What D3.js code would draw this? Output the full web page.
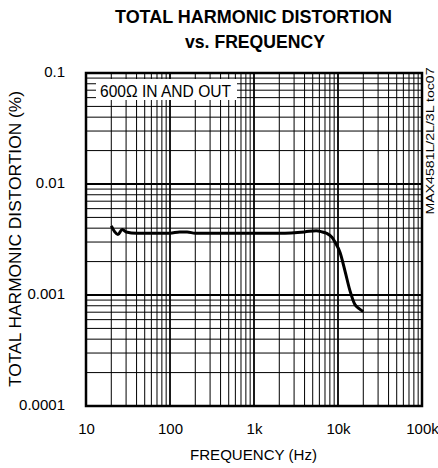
<!DOCTYPE html>
<html>
<head>
<meta charset="utf-8">
<script src="https://cdn.jsdelivr.net/npm/d3@7"></script>
<style>
  html, body { margin: 0; padding: 0; background: #fff; }
  svg { display: block; }
</style>
</head>
<body>
<svg class="chart" width="438" height="468"></svg>
<script>
// Datos
const freqs = [20, 22, 24, 27, 30, 40, 60, 100, 130, 160, 200, 300, 500, 1000, 2000, 4000, 5500, 6500, 7300, 8500, 9200, 10600, 12100, 13900, 15900, 18000, 20000]
const thd = [0.0042, 0.0037, 0.0035, 0.0039, 0.0037, 0.0036, 0.0036, 0.0036, 0.0037, 0.0037, 0.0036, 0.0036, 0.0036, 0.0036, 0.0036, 0.0037, 0.0038, 0.0037, 0.0036, 0.0033, 0.0030, 0.0024, 0.00165, 0.00109, 0.00082, 0.00075, 0.00071]

const xTicks = [10, 100, 1000, 10000, 100000]
const xTickLabels = ['10', '100', '1k', '10k', '100k']
const yTicks = [0.1, 0.01, 0.001, 0.0001]
const yTickLabels = ['0.1', '0.01', '0.001', '0.0001']

const font = 'Liberation Sans, Arial, sans-serif'

// Escalas
const x = d3.scaleLog().domain([10, 100000]).range([86, 422])
const y = d3.scaleLog().domain([0.0001, 0.1]).range([406, 73])

const svg = d3.select('.chart')

// Rejilla
const isDecade = v => Math.abs(Math.log10(v) - Math.round(Math.log10(v))) < 1e-9

svg.append('g')
    .selectAll('line')
    .data(x.ticks())
    .join('line')
    .attr('x1', d => x(d))
    .attr('x2', d => x(d))
    .attr('y1', y.range()[1])
    .attr('y2', y.range()[0])
    .attr('stroke', '#000')
    .attr('stroke-width', d => isDecade(d) ? 1.8 : 1)

svg.append('g')
    .selectAll('line')
    .data(y.ticks())
    .join('line')
    .attr('x1', x.range()[0])
    .attr('x2', x.range()[1])
    .attr('y1', d => y(d))
    .attr('y2', d => y(d))
    .attr('stroke', '#000')
    .attr('stroke-width', d => isDecade(d) ? 1.8 : 1)

// Marco
svg.append('rect')
    .attr('x', x.range()[0])
    .attr('y', y.range()[1])
    .attr('width', x.range()[1] - x.range()[0])
    .attr('height', y.range()[0] - y.range()[1])
    .attr('fill', 'none')
    .attr('stroke', '#000')
    .attr('stroke-width', 2.5)

// Etiqueta de condicion
svg.append('rect')
    .attr('x', 96)
    .attr('y', 79)
    .attr('width', 141)
    .attr('height', 21)
    .attr('fill', '#fff')

svg.append('text')
    .text('600Ω IN AND OUT')
    .attr('x', 100)
    .attr('y', 97)
    .attr('font-family', font)
    .attr('font-size', '16px')
    .attr('textLength', 131)
    .attr('lengthAdjust', 'spacingAndGlyphs')

// Curva
const pts = freqs.map((f, i) => [f, thd[i]])
const line = d3.line()
    .x(d => x(d[0]))
    .y(d => y(d[1]))
    .curve(d3.curveMonotoneX)

svg.append('path')
    .datum(pts)
    .attr('d', line)
    .attr('fill', 'none')
    .attr('stroke', '#000')
    .attr('stroke-width', 3)
    .attr('stroke-linejoin', 'round')

// Ejes (solo etiquetas)
const xAxis = d3.axisBottom(x)
    .tickValues(xTicks)
    .tickFormat((d, i) => xTickLabels[i])
    .tickSize(0)
    .tickPadding(0)

svg.append('g')
    .attr('transform', `translate(0, ${y.range()[0] + 17})`)
    .call(xAxis)
    .call(g => g.select('.domain').remove())
    .selectAll('text')
    .attr('font-family', font)
    .attr('font-size', '15px')
    .attr('fill', '#000')

const yAxis = d3.axisLeft(y)
    .tickValues(yTicks)
    .tickFormat((d, i) => yTickLabels[i])
    .tickSize(0)
    .tickPadding(0)

svg.append('g')
    .attr('transform', 'translate(65, -1)')
    .call(yAxis)
    .call(g => g.select('.domain').remove())
    .selectAll('text')
    .attr('font-family', font)
    .attr('font-size', '15px')
    .attr('fill', '#000')

// Titulos
svg.append('text')
    .text('TOTAL HARMONIC DISTORTION')
    .attr('x', 253.5)
    .attr('y', 23)
    .attr('text-anchor', 'middle')
    .attr('font-family', font)
    .attr('font-weight', 'bold')
    .attr('font-size', '18px')
    .attr('textLength', 277)
    .attr('lengthAdjust', 'spacingAndGlyphs')

svg.append('text')
    .text('vs. FREQUENCY')
    .attr('x', 255)
    .attr('y', 48)
    .attr('text-anchor', 'middle')
    .attr('font-family', font)
    .attr('font-weight', 'bold')
    .attr('font-size', '18px')
    .attr('textLength', 140)
    .attr('lengthAdjust', 'spacingAndGlyphs')

svg.append('text')
    .text('FREQUENCY (Hz)')
    .attr('x', 253.5)
    .attr('y', 460)
    .attr('text-anchor', 'middle')
    .attr('font-family', font)
    .attr('font-size', '15px')
    .attr('textLength', 127)
    .attr('lengthAdjust', 'spacingAndGlyphs')

svg.append('text')
    .text('TOTAL HARMONIC DISTORTION (%)')
    .attr('transform', 'translate(21, 239) rotate(-90)')
    .attr('text-anchor', 'middle')
    .attr('font-family', font)
    .attr('font-size', '16px')
    .attr('textLength', 296)
    .attr('lengthAdjust', 'spacingAndGlyphs')

svg.append('text')
    .text('MAX4581L/2L/3L toc07')
    .attr('transform', 'translate(434, 141) rotate(-90)')
    .attr('text-anchor', 'middle')
    .attr('font-family', font)
    .attr('font-size', '10px')
    .attr('textLength', 147)
    .attr('lengthAdjust', 'spacingAndGlyphs')
</script>
</body>
</html>
